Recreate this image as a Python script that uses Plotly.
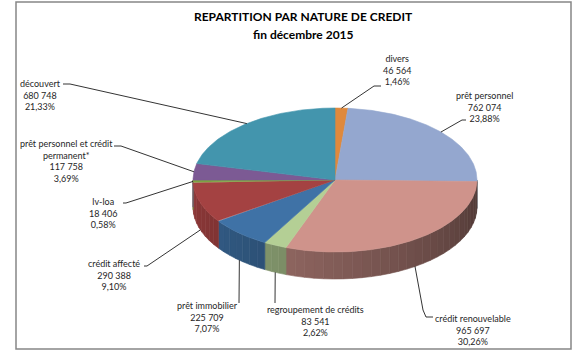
import numpy as np
import plotly.graph_objects as go

# ---------------- data ----------------
categories = ["divers", "prêt personnel", "crédit renouvelable",
              "regroupement de crédits", "prêt immobilier", "crédit affecté",
              "lv-loa", "prêt personnel et crédit permanent*", "découvert"]
label_text = ["divers", "prêt personnel", "crédit renouvelable",
              "regroupement de crédits", "prêt immobilier", "crédit affecté",
              "lv-loa", "prêt personnel et crédit<br>permanent*", "découvert"]
values = [46564, 762074, 965697, 83541, 225709, 290388, 18406, 117758, 680748]

# ---------------- style ----------------
colors = ["#DF893C", "#94A7CF", "#CF938B", "#B4CF95", "#3F72A6",
          "#A44242", "#7DA343", "#7C5A94", "#4395AD"]
CX, CY, RX, RY, DEPTH = 335.0, 180.0, 142.0, 72.0, 27.0
W, H = 574, 355
FONT = "Lato"

# label centres and leader elbow points (layout)
label_pos = [(397, 70), (484, 107), (473, 330), (315, 321), (207, 317),
             (114, 275), (103, 213), (66, 161), (40, 95)]
leader_pts = [
    [(374, 86), (381, 86)],
    [(462, 120), (466, 120)],
    [(423, 310), (426, 317), (433, 317)],
    [(275, 303)],
    [(239, 303)],
    [(147, 266), (144, 266)],
    [(126, 203), (123, 203)],
    [(121, 146), (114, 146)],
    [(70, 84), (63, 84)],
]


def hex2rgb(h):
    h = h.lstrip("#")
    return tuple(int(h[i:i + 2], 16) for i in (0, 2, 4))


def shade(h, f):
    r, g, b = hex2rgb(h)
    return "rgb(%d,%d,%d)" % (min(255, r * f), min(255, g * f), min(255, b * f))


def pt(theta_deg, dy=0.0):
    t = np.radians(theta_deg)
    return CX + RX * np.sin(t), CY - RY * np.cos(t) + dy


total = float(sum(values))
fracs = [v / total for v in values]
bounds = np.concatenate([[0.0], np.cumsum(fracs) * 360.0])

fig = go.Figure()

# ---- side faces (front half only) ----
for i, c in enumerate(colors):
    a0, a1 = max(bounds[i], 90.0), min(bounds[i + 1], 270.0)
    if a1 <= a0:
        continue
    n = max(1, int(np.ceil((a1 - a0) / 4.0)))
    edges = np.linspace(a0, a1, n + 1)
    for s in range(n):
        e0, e1 = edges[s], edges[s + 1]
        th = np.linspace(e0, e1, 6)
        xs_top, ys_top = pt(th)
        xs_bot, ys_bot = pt(th[::-1], DEPTH)
        xs = np.concatenate([xs_top, xs_bot, xs_top[:1]])
        ys = np.concatenate([ys_top, ys_bot, ys_top[:1]])
        mid = 0.5 * (e0 + e1)
        f = 0.38 + 0.5 * (mid - 90.0) / 180.0
        col = shade(c, f)
        fig.add_trace(go.Scatter(x=xs, y=ys, mode="lines", fill="toself",
                                 fillcolor=col, line=dict(color=col, width=0.6),
                                 hoverinfo="skip", showlegend=False))

# ---- top faces ----
for i, c in enumerate(colors):
    th = np.linspace(bounds[i], bounds[i + 1], max(3, int((bounds[i + 1] - bounds[i]) * 2) + 2))
    xs, ys = pt(th)
    xs = np.concatenate([[CX], xs, [CX]])
    ys = np.concatenate([[CY], ys, [CY]])
    fig.add_trace(go.Scatter(x=xs, y=ys, mode="lines", fill="toself",
                             fillcolor=c, line=dict(color=c, width=0.6),
                             hoverinfo="skip", showlegend=False))

# ---- leader lines and labels ----
for i, cat in enumerate(categories):
    mid = 0.5 * (bounds[i] + bounds[i + 1])
    dy = DEPTH if 95.0 < mid < 265.0 else 0.0
    px, py = pt(mid, dy)
    lx = [px] + [p[0] for p in leader_pts[i]]
    ly = [py] + [p[1] for p in leader_pts[i]]
    fig.add_trace(go.Scatter(x=lx, y=ly, mode="lines",
                             line=dict(color="#000000", width=0.8),
                             hoverinfo="skip", showlegend=False))
    num = "{:,}".format(values[i]).replace(",", " ")
    pct = ("%.2f" % (fracs[i] * 100)).replace(".", ",") + "%"
    fig.add_annotation(x=label_pos[i][0], y=label_pos[i][1],
                       text=label_text[i] + "<br>" + num + "<br>" + pct,
                       showarrow=False, xanchor="center", yanchor="middle",
                       align="center",
                       font=dict(family=FONT, size=9, color="#262626"))

# ---- title ----
fig.add_annotation(x=303, y=16, text="<b>REPARTITION PAR NATURE DE CREDIT</b>",
                   showarrow=False, xanchor="center", yanchor="middle",
                   font=dict(family=FONT, size=12, color="#000000"))
fig.add_annotation(x=303, y=34, text="<b>fin décembre 2015</b>",
                   showarrow=False, xanchor="center", yanchor="middle",
                   font=dict(family=FONT, size=12, color="#000000"))

# ---- frame ----
fig.add_shape(type="rect", x0=16, y0=2, x1=571, y1=349,
              line=dict(color="#868686", width=1.5), layer="below")

fig.update_layout(
    width=W, height=H,
    margin=dict(l=0, r=0, t=0, b=0),
    paper_bgcolor="white", plot_bgcolor="white",
    xaxis=dict(range=[0, W], visible=False, fixedrange=True),
    yaxis=dict(range=[H, 0], visible=False, fixedrange=True),
    showlegend=False,
)

fig.write_html("out.html", config={"displayModeBar": False},
               post_script="document.body.style.margin='0';document.body.style.overflow='hidden';")
